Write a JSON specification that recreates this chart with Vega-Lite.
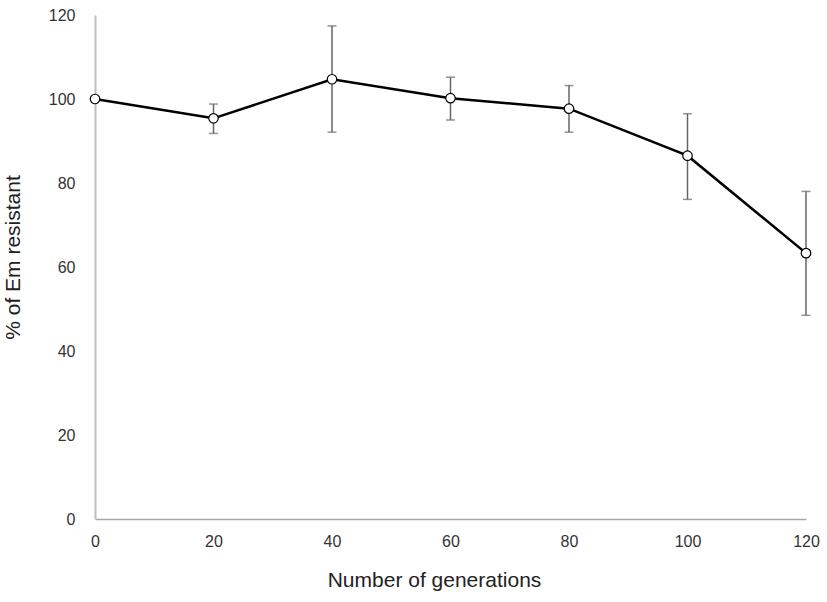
{
  "$schema": "https://vega.github.io/schema/vega-lite/v6.json",
  "width": 711,
  "height": 504,
  "autosize": {"type": "none"},
  "padding": {"left": 95, "top": 15, "right": 21, "bottom": 83},
  "background": "white",
  "config": {
    "view": {"stroke": null},
    "font": "Liberation Sans"
  },
  "data": {
    "values": [
      {"gen": 0, "pct": 100.0, "lower": 100.0, "upper": 100.0},
      {"gen": 20, "pct": 95.4, "lower": 91.8, "upper": 98.8},
      {"gen": 40, "pct": 104.7, "lower": 92.1, "upper": 117.4},
      {"gen": 60, "pct": 100.2, "lower": 95.0, "upper": 105.2},
      {"gen": 80, "pct": 97.7, "lower": 92.1, "upper": 103.2},
      {"gen": 100, "pct": 86.5, "lower": 76.1, "upper": 96.5},
      {"gen": 120, "pct": 63.3, "lower": 48.5, "upper": 78.0}
    ]
  },
  "encoding": {
    "x": {
      "field": "gen",
      "type": "quantitative",
      "scale": {"domain": [0, 120], "nice": false, "zero": false},
      "axis": {
        "title": "Number of generations",
        "values": [0, 20, 40, 60, 80, 100, 120],
        "grid": false,
        "ticks": false,
        "domainColor": "#a6a6a6",
        "domainWidth": 1.5,
        "labelFont": "Liberation Sans",
        "labelFontSize": 16,
        "labelColor": "#333333",
        "labelPadding": 14,
        "labelFlush": false,
        "titleFont": "Liberation Sans",
        "titleFontSize": 21,
        "titleFontWeight": "normal",
        "titleColor": "#222222",
        "titlePadding": 20,
        "titleX": 339,
        "titleAlign": "center"
      }
    }
  },
  "layer": [
    {
      "mark": {"type": "rule", "color": "#666666", "strokeWidth": 1.5},
      "encoding": {
        "y": {"field": "lower", "type": "quantitative"},
        "y2": {"field": "upper"}
      }
    },
    {
      "mark": {"type": "tick", "orient": "horizontal", "color": "#666666", "size": 9, "thickness": 1.5},
      "encoding": {
        "y": {"field": "lower", "type": "quantitative"}
      }
    },
    {
      "mark": {"type": "tick", "orient": "horizontal", "color": "#666666", "size": 9, "thickness": 1.5},
      "encoding": {
        "y": {"field": "upper", "type": "quantitative"}
      }
    },
    {
      "mark": {"type": "line", "color": "black", "strokeWidth": 2.5},
      "encoding": {
        "y": {
          "field": "pct",
          "type": "quantitative",
          "scale": {"domain": [0, 120], "nice": false},
          "axis": {
            "title": "% of Em resistant",
            "values": [0, 20, 40, 60, 80, 100, 120],
            "grid": false,
            "ticks": false,
            "domainColor": "#bfbfbf",
            "domainWidth": 2,
            "labelFont": "Liberation Sans",
            "labelFontSize": 16,
            "labelColor": "#333333",
            "labelPadding": 20,
            "labelFlush": false,
            "titleFont": "Liberation Sans",
            "titleFontSize": 21,
            "titleFontWeight": "normal",
            "titleColor": "#222222",
            "titlePadding": 25,
            "titleY": 242,
            "titleAlign": "center"
          }
        }
      }
    },
    {
      "mark": {"type": "point", "shape": "circle", "filled": true, "fill": "white", "stroke": "black", "strokeWidth": 1.2, "size": 90, "opacity": 1},
      "encoding": {
        "y": {"field": "pct", "type": "quantitative"}
      }
    }
  ]
}
